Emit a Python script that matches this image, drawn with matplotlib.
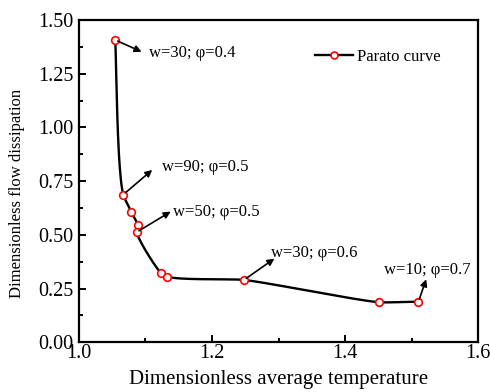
import numpy as np
import matplotlib
matplotlib.use("Agg")
import matplotlib.pyplot as plt
from matplotlib.ticker import MultipleLocator

plt.rcParams['font.family'] = ['Liberation Serif', 'DejaVu Serif']

# Pareto points
temp = [1.0546, 1.0666, 1.0786, 1.0883, 1.0868, 1.1229, 1.1328, 1.2481, 1.4516, 1.5102]
dissip = [1.407, 0.687, 0.608, 0.546, 0.512, 0.324, 0.305, 0.290, 0.186, 0.189]

# annotations: point index, label, arrow head, text position
ann_idx = [0, 1, 4, 7, 9]
ann_text = ["w=30; φ=0.4", "w=90; φ=0.5", "w=50; φ=0.5", "w=30; φ=0.6", "w=10; φ=0.7"]
ann_head = [(1.0942, 1.352), (1.1102, 0.802), (1.1379, 0.608), (1.2937, 0.389), (1.5218, 0.293)]
ann_pos = [(1.1057, 1.348), (1.1244, 0.817), (1.1418, 0.608), (1.2887, 0.417), (1.4591, 0.336)]


def smooth_path(xs, ys, tension=0.5, n=40):
    # Hermite curve through the points with tangents along the bisecting direction,
    # worked out in display scale so the rounding looks even
    scale = np.array([665.0, 215.0])
    P = np.column_stack([xs, ys]) * scale
    e = np.diff(P, axis=0)
    L = np.hypot(e[:, 0], e[:, 1])
    u = e / L[:, None]
    dirs = np.zeros_like(P)
    dirs[0], dirs[-1] = u[0], u[-1]
    for k in range(1, len(P) - 1):
        v = u[k - 1] + u[k]
        dirs[k] = v / np.hypot(*v)
    s = np.linspace(0, 1, n)[:, None]
    h00 = 2 * s**3 - 3 * s**2 + 1
    h10 = s**3 - 2 * s**2 + s
    h01 = -2 * s**3 + 3 * s**2
    h11 = s**3 - s**2
    out = []
    for k in range(len(P) - 1):
        m0 = tension * L[k] * dirs[k]
        m1 = tension * L[k] * dirs[k + 1]
        out.append(h00 * P[k] + h10 * m0 + h01 * P[k + 1] + h11 * m1)
    out = np.vstack(out) / scale
    return out[:, 0], out[:, 1]


fig = plt.figure(figsize=(4.9, 3.92), dpi=100)
ax = fig.add_axes([0.161, 0.127, 0.815, 0.822])

sx, sy = smooth_path(temp, dissip)
ax.plot(sx, sy, color='black', lw=1.7, zorder=2)
ax.plot(temp, dissip, 'o', mfc='white', mec='red', mew=1.2, ms=5.5, zorder=3)
# legend handle
ax.plot([], [], '-o', color='black', lw=1.7, mfc='white', mec='red', mew=1.2, ms=5,
        label='Parato curve')

for i, txt, hd, pos in zip(ann_idx, ann_text, ann_head, ann_pos):
    ax.annotate('', xy=hd, xytext=(temp[i], dissip[i]),
                arrowprops=dict(arrowstyle='-|>', color='black', lw=1.2,
                                mutation_scale=10, shrinkA=2, shrinkB=0))
    ax.text(pos[0], pos[1], txt, fontsize=12, ha='left', va='center')

ax.set_xlim(1.0, 1.6)
ax.set_ylim(0.0, 1.5)
ax.xaxis.set_major_locator(MultipleLocator(0.2))
ax.xaxis.set_minor_locator(MultipleLocator(0.1))
ax.yaxis.set_major_locator(MultipleLocator(0.25))
ax.yaxis.set_minor_locator(MultipleLocator(0.125))
ax.yaxis.set_major_formatter(plt.FormatStrFormatter('%.2f'))
ax.xaxis.set_major_formatter(plt.FormatStrFormatter('%.1f'))
ax.tick_params(which='both', direction='in', width=1.4, labelsize=14.5)
ax.tick_params(axis='y', pad=4)
ax.tick_params(axis='x', pad=1)
ax.tick_params(which='major', length=5)
ax.tick_params(which='minor', length=3)
for s in ax.spines.values():
    s.set_linewidth(1.6)

ax.set_xlabel('Dimensionless average temperature', fontsize=15)
ax.set_ylabel('Dimensionless flow dissipation', fontsize=12)
ax.xaxis.set_label_coords(0.5, -0.085)
ax.yaxis.set_label_coords(-0.135, 0.463)

ax.legend(loc='center left', bbox_to_anchor=(0.591, 0.885), frameon=False,
          fontsize=12, borderpad=0, borderaxespad=0, handlelength=2.3,
          handletextpad=0.25)

fig.savefig('out.png', dpi=100)
